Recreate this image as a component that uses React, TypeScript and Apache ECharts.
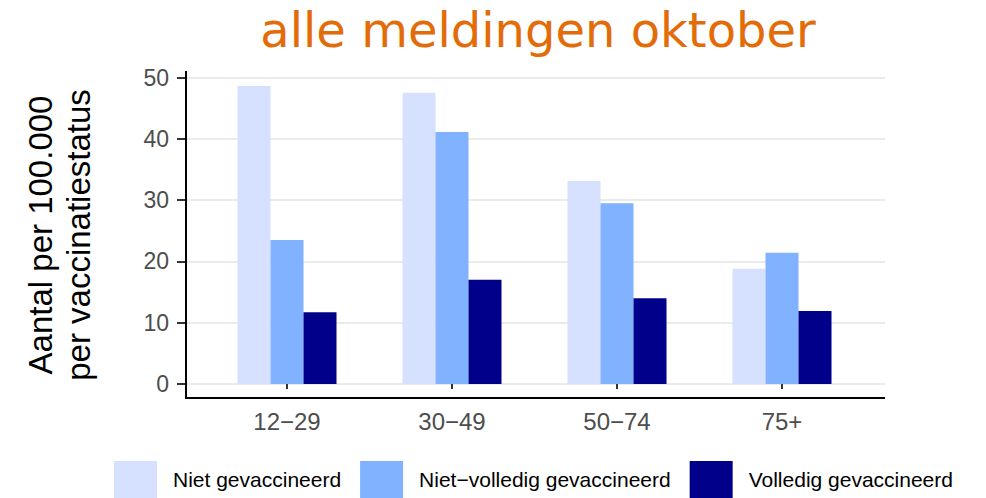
import React, { useEffect, useRef } from "react";
import * as echarts from "echarts";

const categories = ["12\u221229", "30\u221249", "50\u221274", "75+"];
const seriesNames = ["Niet gevaccineerd", "Niet\u2212volledig gevaccineerd", "Volledig gevaccineerd"];
const nietGevaccineerd = [48.6, 47.5, 33.1, 18.8];
const nietVolledig = [23.5, 41.1, 29.5, 21.4];
const volledig = [11.7, 17.0, 14.0, 11.9];
const seriesColors = ["#D6E0FF", "#80B2FF", "#00008B"];
const yTicks = { min: 0, max: 50, interval: 10 };

export default function App() {
  const ref = useRef<HTMLDivElement>(null);
  useEffect(() => {
    if (!ref.current) return;
    const chart = echarts.init(ref.current, null, { renderer: "svg" });
    const font = "Liberation Sans, Arial, sans-serif";
    const values = [nietGevaccineerd, nietVolledig, volledig];
    chart.setOption({
      animation: false,
      backgroundColor: "#ffffff",
      grid: [
        { left: 204.5, width: 660, top: 77.5, height: 306.5, containLabel: false },
        { left: 186, width: 699, top: 77.5, height: 306.5, containLabel: false },
      ],
      legend: {
        data: seriesNames,
        left: 114,
        top: 461,
        padding: 0,
        icon: "rect",
        itemWidth: 43,
        itemHeight: 37,
        itemGap: 19,
        textStyle: { fontFamily: font, fontSize: 21, color: "#000", padding: [0, 0, 0, 11] },
      },
      xAxis: [
        {
          type: "category",
          gridIndex: 0,
          data: categories,
          offset: 14,
          axisLine: { show: false },
          axisTick: { show: true, alignWithLabel: true, length: 5, lineStyle: { color: "#333", width: 2 } },
          axisLabel: { margin: 11, fontFamily: font, fontSize: 24, color: "#4D4D4D" },
          splitLine: { show: false },
        },
        { type: "value", gridIndex: 1, min: 0, max: 1, show: false },
      ],
      yAxis: [
        { type: "value", gridIndex: 0, min: yTicks.min, max: yTicks.max, interval: yTicks.interval, show: false },
        {
          type: "value",
          gridIndex: 1,
          min: yTicks.min,
          max: yTicks.max,
          interval: yTicks.interval,
          axisLine: { show: false },
          axisTick: { show: true, length: 9, lineStyle: { color: "#333", width: 2 } },
          axisLabel: { margin: 17, fontFamily: font, fontSize: 23, color: "#4D4D4D" },
          splitLine: { show: true, lineStyle: { color: "#EBEBEB", width: 2 } },
        },
      ],
      series: seriesNames.map((name, i) => ({
        name,
        type: "bar",
        xAxisIndex: 0,
        yAxisIndex: 0,
        data: values[i],
        barWidth: 33,
        barGap: "0%",
        itemStyle: { color: seriesColors[i] },
      })),
      graphic: [
        {
          type: "text",
          x: 538,
          y: 30,
          style: {
            text: "alle meldingen oktober",
            font: "48px 'DejaVu Sans', Verdana, sans-serif",
            fill: "#E36C09",
            textAlign: "center",
            textVerticalAlign: "middle",
          },
        },
        {
          type: "text",
          x: 59,
          y: 235,
          rotation: Math.PI / 2,
          style: {
            text: "Aantal per 100.000\nper vaccinatiestatus",
            font: "33px 'Liberation Sans', Arial, sans-serif",
            lineHeight: 38,
            fill: "#000",
            textAlign: "center",
            textVerticalAlign: "middle",
          },
        },
        {
          type: "line",
          shape: { x1: 186, y1: 71, x2: 186, y2: 399 },
          style: { stroke: "#000", lineWidth: 2 },
          z: 100,
        },
        {
          type: "line",
          shape: { x1: 185, y1: 398, x2: 885, y2: 398 },
          style: { stroke: "#000", lineWidth: 2 },
          z: 100,
        },
      ],
    });
    return () => chart.dispose();
  }, []);
  return (
    <div
      ref={ref}
      style={{ position: "fixed", left: 0, top: 0, width: 986, height: 498 }}
    />
  );
}
